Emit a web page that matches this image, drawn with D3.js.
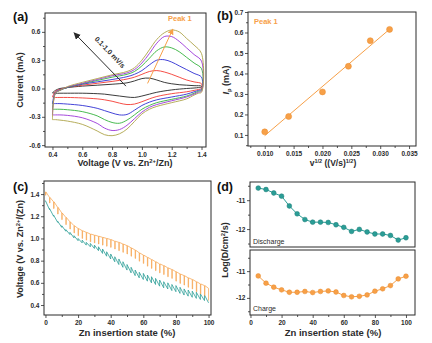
<!DOCTYPE html>
<html>
<head>
<meta charset="utf-8">
<script src="https://cdn.jsdelivr.net/npm/d3@7"></script>
<style>
  body { margin: 0; background: #fff; }
  text { font-family: "Liberation Sans", Arial, sans-serif; }
</style>
</head>
<body>
<svg id="fig" width="432" height="343"></svg>
<script>
// ---- (a) CV curves, 0.1 - 1.0 mV/s
var cvRates = [0.1, 0.2, 0.4, 0.6, 0.8, 1.0];
var cvColors = ["#262626", "#f43a32", "#2f2fd2", "#33b23c", "#9b35d8", "#aea448"];
var vUp = [0.40, 0.42, 0.45, 0.50, 0.60, 0.70, 0.80, 0.90, 0.95, 1.00, 1.05, 1.10, 1.15, 1.20, 1.25, 1.30, 1.35, 1.40];
var vDown = [1.40, 1.38, 1.35, 1.30, 1.20, 1.10, 1.05, 1.00, 0.95, 0.90, 0.85, 0.80, 0.75, 0.70, 0.60, 0.50, 0.45, 0.42, 0.40];
var iUp = [
  [-0.045, -0.02, 0.00, 0.01, 0.025, 0.035, 0.045, 0.06, 0.08, 0.105, 0.11, 0.09, 0.065, 0.05, 0.04, 0.035, 0.03, 0.025],
  [-0.09, -0.03, -0.01, 0.01, 0.035, 0.055, 0.075, 0.1, 0.12, 0.15, 0.18, 0.19, 0.175, 0.15, 0.12, 0.09, 0.07, 0.05],
  [-0.16, -0.04, -0.015, 0.01, 0.045, 0.07, 0.095, 0.125, 0.15, 0.19, 0.25, 0.3, 0.305, 0.28, 0.24, 0.2, 0.16, 0.12],
  [-0.22, -0.05, -0.02, 0.01, 0.05, 0.085, 0.12, 0.15, 0.18, 0.24, 0.32, 0.40, 0.44, 0.43, 0.39, 0.33, 0.27, 0.21],
  [-0.28, -0.05, -0.02, 0.015, 0.055, 0.095, 0.135, 0.165, 0.2, 0.27, 0.37, 0.48, 0.55, 0.55, 0.5, 0.43, 0.36, 0.29],
  [-0.33, -0.05, -0.02, 0.02, 0.065, 0.105, 0.145, 0.18, 0.22, 0.3, 0.41, 0.52, 0.59, 0.62, 0.6, 0.53, 0.46, 0.37]
];
var iDown = [
  [0.015, 0.01, 0.005, 0.0, -0.015, -0.04, -0.06, -0.08, -0.095, -0.09, -0.08, -0.07, -0.06, -0.055, -0.05, -0.05, -0.05, -0.05, -0.045],
  [0.0, -0.01, -0.02, -0.035, -0.055, -0.085, -0.11, -0.14, -0.165, -0.17, -0.155, -0.135, -0.12, -0.11, -0.1, -0.095, -0.095, -0.095, -0.09],
  [-0.01, -0.02, -0.035, -0.06, -0.09, -0.12, -0.145, -0.18, -0.23, -0.275, -0.28, -0.26, -0.235, -0.21, -0.18, -0.165, -0.16, -0.16, -0.16],
  [-0.02, -0.03, -0.05, -0.08, -0.115, -0.15, -0.18, -0.22, -0.28, -0.335, -0.368, -0.36, -0.33, -0.29, -0.245, -0.225, -0.22, -0.22, -0.22],
  [-0.03, -0.04, -0.06, -0.09, -0.13, -0.17, -0.2, -0.25, -0.32, -0.39, -0.435, -0.445, -0.42, -0.37, -0.31, -0.285, -0.28, -0.28, -0.28],
  [-0.04, -0.05, -0.07, -0.11, -0.15, -0.19, -0.22, -0.27, -0.35, -0.43, -0.48, -0.5, -0.49, -0.45, -0.38, -0.345, -0.335, -0.33, -0.33]
];

// ---- (b) peak current vs sqrt(scan rate)
var sqrtRate = [0.0100, 0.01414, 0.0200, 0.02449, 0.02828, 0.03162];
var peakCurrent = [0.115, 0.19, 0.31, 0.435, 0.56, 0.615];

// ---- (c) GITT profiles, one entry per pulse
var gittX = [0, 2.5, 5, 7.5, 10, 12.5, 15, 17.5, 20, 22.5, 25, 27.5, 30, 32.5, 35, 37.5, 40, 42.5, 45, 47.5,
             50, 52.5, 55, 57.5, 60, 62.5, 65, 67.5, 70, 72.5, 75, 77.5, 80, 82.5, 85, 87.5, 90, 92.5, 95, 97.5, 100];
var orangeTop = [1.42, 1.37, 1.33, 1.28, 1.23, 1.19, 1.15, 1.115, 1.09, 1.07, 1.055, 1.04, 1.03, 1.02, 1.01, 1.0, 0.99, 0.975, 0.965, 0.95,
                 0.935, 0.915, 0.895, 0.87, 0.85, 0.83, 0.81, 0.79, 0.77, 0.755, 0.735, 0.72, 0.70, 0.68, 0.665, 0.645, 0.63, 0.61, 0.59, 0.575, 0.55];
var orangeDrop = [0.03, 0.05, 0.06, 0.06, 0.06, 0.065, 0.065, 0.065, 0.065, 0.07, 0.07, 0.07, 0.07, 0.07, 0.07, 0.07, 0.07, 0.07, 0.075, 0.075,
                  0.075, 0.075, 0.075, 0.075, 0.075, 0.08, 0.08, 0.08, 0.08, 0.08, 0.08, 0.08, 0.085, 0.085, 0.085, 0.085, 0.085, 0.09, 0.09, 0.09, 0.11];
var tealBase = [1.335, 1.26, 1.2, 1.145, 1.1, 1.065, 1.035, 1.005, 0.98, 0.96, 0.94, 0.925, 0.91, 0.89, 0.865, 0.84, 0.815, 0.79, 0.765, 0.74,
                0.715, 0.69, 0.665, 0.645, 0.63, 0.615, 0.6, 0.585, 0.57, 0.555, 0.545, 0.53, 0.52, 0.505, 0.49, 0.48, 0.47, 0.46, 0.45, 0.44, 0.42];
var tealRise = [0.005, 0.01, 0.01, 0.01, 0.015, 0.015, 0.02, 0.02, 0.02, 0.025, 0.025, 0.03, 0.03, 0.035, 0.04, 0.04, 0.045, 0.045, 0.05, 0.05,
                0.05, 0.05, 0.05, 0.05, 0.055, 0.055, 0.055, 0.055, 0.055, 0.055, 0.055, 0.055, 0.055, 0.055, 0.055, 0.055, 0.055, 0.055, 0.05, 0.05, 0];

// ---- (d) diffusion coefficients
var dState = [5, 10, 15, 20, 25, 30, 35, 40, 45, 50, 55, 60, 65, 70, 75, 80, 85, 90, 95, 100];
var logDDischarge = [-10.58, -10.63, -10.75, -10.86, -11.2, -11.47, -11.67, -11.76, -11.76, -11.77,
                     -11.85, -11.94, -12.08, -12.01, -12.1, -12.17, -12.17, -12.22, -12.38, -12.3];
var logDCharge = [-11.18, -11.45, -11.6, -11.7, -11.79, -11.79, -11.76, -11.8, -11.76, -11.74,
                  -11.78, -11.91, -11.96, -11.94, -11.89, -11.75, -11.66, -11.54, -11.29, -11.19];

var INK = "#2b2b2b";
var ORANGE = "#f7a048";
var TEAL = "#2a9d96";
var svg = d3.select("#fig");

var defs = svg.append("defs");
function arrowMarker(id, color, size) {
  defs.append("marker").attr("id", id)
      .attr("viewBox", "0 0 10 10").attr("refX", 9).attr("refY", 5)
      .attr("markerWidth", size).attr("markerHeight", size)
      .attr("markerUnits", "userSpaceOnUse").attr("orient", "auto")
    .append("path").attr("d", "M0,0L10,5L0,10z").attr("fill", color);
}
arrowMarker("arrBlack", INK, 7);
arrowMarker("arrOrange", ORANGE, 6);

function makePanel(p) {
  p.x = d3.scaleLinear().domain(p.xd).range([p.l, p.r]);
  p.y = d3.scaleLinear().domain(p.yd).range([p.b, p.t]);
  p.g = svg.append("g");
  return p;
}

function addAxes(p, o) {
  var gx = p.g.append("g").attr("transform", "translate(0," + p.b + ")");
  if (o.xMinor) gx.append("g").call(d3.axisBottom(p.x).tickValues(o.xMinor).tickSize(2).tickFormat(""));
  if (o.xMajor) gx.append("g").call(d3.axisBottom(p.x).tickValues(o.xMajor).tickSize(3).tickPadding(2).tickFormat(o.xFmt));
  var gy = p.g.append("g").attr("transform", "translate(" + p.l + ",0)");
  if (o.yMinor) gy.append("g").call(d3.axisLeft(p.y).tickValues(o.yMinor).tickSize(2).tickFormat(""));
  gy.append("g").call(d3.axisLeft(p.y).tickValues(o.yMajor).tickSize(3).tickPadding(1.5).tickFormat(o.yFmt));
  p.g.selectAll(".domain").remove();
  p.g.selectAll(".tick line").attr("stroke", INK).attr("stroke-width", 0.8);
  // the minor-tick axes still create empty <text>; drop them
  p.g.selectAll(".tick text").filter(function() { return this.textContent === ""; }).remove();
  p.g.selectAll(".tick text").attr("font-size", 6.5).attr("font-weight", "bold")
      .attr("fill", INK).attr("font-family", "Liberation Sans, Arial, sans-serif");
}

function addBox(p) {
  p.g.append("rect").attr("x", p.l).attr("y", p.t)
      .attr("width", p.r - p.l).attr("height", p.b - p.t)
      .attr("fill", "none").attr("stroke", INK).attr("stroke-width", 1);
}

// text from pieces: [string, "sup" | "sub" | "it" | null]
function richText(sel, parts, size) {
  var carry = 0;
  parts.forEach(function(pt) {
    var t = sel.append("tspan").text(pt[0]);
    var shift = 0;
    if (pt[1] === "sup") shift = -size * 0.38;
    if (pt[1] === "sub") shift = size * 0.25;
    if (pt[1] === "sup" || pt[1] === "sub") t.attr("font-size", size * 0.65);
    if (pt[1] === "it") t.attr("font-style", "italic");
    var dy = carry + shift;
    if (dy) t.attr("dy", dy);
    carry = -shift;
  });
  return sel;
}

function title(x, y, rot, parts, size) {
  var t = svg.append("text").attr("font-size", size).attr("font-weight", "bold").attr("fill", INK)
      .attr("text-anchor", "middle")
      .attr("transform", "translate(" + x + "," + y + ")" + (rot ? " rotate(-90)" : ""));
  richText(t, parts, size);
}

function panelLabel(x, y, s) {
  svg.append("text").attr("x", x).attr("y", y).text(s)
      .attr("font-family", "Liberation Serif, Times New Roman, serif")
      .attr("font-weight", "bold").attr("font-size", 12.5).attr("fill", "#111");
}

var f1 = function(d) { return d.toFixed(1); };
var f3 = function(d) { return d.toFixed(3); };
var f0 = function(d) { return d.toFixed(0); };

// ================= (a)
var A = makePanel({l: 45, r: 206, t: 13, b: 147, xd: [0.35, 1.43], yd: [-0.62, 0.8]});
addAxes(A, {
  xMajor: [0.4, 0.6, 0.8, 1.0, 1.2, 1.4], xMinor: [0.5, 0.7, 0.9, 1.1, 1.3], xFmt: f1,
  yMajor: [-0.6, -0.3, 0, 0.3, 0.6], yMinor: [-0.45, -0.15, 0.15, 0.45, 0.75], yFmt: f1
});
var cvLine = d3.line().x(function(d) { return A.x(d[0]); }).y(function(d) { return A.y(d[1]); })
    .curve(d3.curveCatmullRom.alpha(0.5));
cvRates.forEach(function(r, k) {
  var pts = vUp.map(function(v, j) { return [v, iUp[k][j]]; })
      .concat(vDown.map(function(v, j) { return [v, iDown[k][j]]; }));
  A.g.append("path").datum(pts).attr("d", cvLine)
      .attr("fill", "none").attr("stroke", cvColors[k]).attr("stroke-width", 0.9);
});
addBox(A);
// scan-rate arrow
A.g.append("line").attr("x1", A.x(0.893)).attr("y1", A.y(0.025)).attr("x2", A.x(0.545)).attr("y2", A.y(0.59))
    .attr("stroke", INK).attr("stroke-width", 1).attr("marker-end", "url(#arrBlack)");
A.g.append("text").attr("transform", "translate(" + A.x(0.68) + "," + A.y(0.52) + ") rotate(46)")
    .attr("font-size", 7).attr("font-weight", "bold").attr("fill", INK).text("0.1-1.0 mV/s");
A.g.append("line").attr("x1", A.x(1.038)).attr("y1", A.y(0.054)).attr("x2", A.x(1.208)).attr("y2", A.y(0.63))
    .attr("stroke", ORANGE).attr("stroke-width", 1).attr("marker-end", "url(#arrOrange)");
A.g.append("text").attr("x", A.x(1.175)).attr("y", A.y(0.715))
    .attr("font-size", 7.5).attr("font-weight", "bold").attr("fill", ORANGE).text("Peak 1");
title(125, 166, false, [["Voltage (V vs. Zn", null], ["2+", "sup"], ["/Zn)", null]], 9);
title(23, 80, true, [["Current (mA)", null]], 9);
panelLabel(13, 21, "(a)");

// ================= (b)
var B = makePanel({l: 248, r: 416, t: 12, b: 146, xd: [0.0071, 0.0362], yd: [0.046, 0.7]});
addAxes(B, {
  xMajor: [0.010, 0.015, 0.020, 0.025, 0.030, 0.035],
  xMinor: [0.0075, 0.0125, 0.0175, 0.0225, 0.0275, 0.0325], xFmt: f3,
  yMajor: [0.1, 0.2, 0.3, 0.4, 0.5, 0.6, 0.7], yMinor: [0.05, 0.15, 0.25, 0.35, 0.45, 0.55, 0.65], yFmt: f1
});
// least-squares line through the peak currents
var mx = d3.mean(sqrtRate), my = d3.mean(peakCurrent);
var sxy = d3.sum(sqrtRate, function(v, i) { return (v - mx) * (peakCurrent[i] - my); });
var sxx = d3.sum(sqrtRate, function(v) { return (v - mx) * (v - mx); });
var slope = sxy / sxx, icpt = my - slope * mx;
var fitX = d3.extent(sqrtRate);
B.g.append("line").attr("x1", B.x(fitX[0])).attr("y1", B.y(icpt + slope * fitX[0]))
    .attr("x2", B.x(fitX[1])).attr("y2", B.y(icpt + slope * fitX[1]))
    .attr("stroke", ORANGE).attr("stroke-width", 1);
B.g.selectAll("circle.pk").data(sqrtRate).enter().append("circle")
    .attr("cx", function(d) { return B.x(d); })
    .attr("cy", function(d, i) { return B.y(peakCurrent[i]); })
    .attr("r", 3).attr("fill", ORANGE).attr("stroke", "#e98a2c").attr("stroke-width", 0.5);
addBox(B);
B.g.append("text").attr("x", B.l + 6).attr("y", B.t + 11.5)
    .attr("font-size", 7.5).attr("font-weight", "bold").attr("fill", ORANGE).text("Peak 1");
title(333, 166, false, [["v", null], ["1/2", "sup"], [" ((V/s)", null], ["1/2", "sup"], [")", null]], 8.5);
title(229, 80, true, [["I", "it"], ["p", "sub"], [" (mA)", null]], 9);
panelLabel(217, 20, "(b)");

// ================= (c)
var C = makePanel({l: 44, r: 211, t: 181, b: 315, xd: [-0.9, 101.5], yd: [0.31, 1.518]});
addAxes(C, {
  xMajor: [0, 20, 40, 60, 80, 100], xMinor: [10, 30, 50, 70, 90], xFmt: f0,
  yMajor: [0.4, 0.6, 0.8, 1.0, 1.2, 1.4], yMinor: [0.5, 0.7, 0.9, 1.1, 1.3, 1.5], yFmt: f1
});
var oPath = d3.path(), tPath = d3.path();
gittX.forEach(function(xv, i) {
  var px = C.x(xv);
  var top = C.y(orangeTop[i]), tip = C.y(orangeTop[i] - orangeDrop[i]);
  if (i === 0) oPath.moveTo(px, top); else oPath.lineTo(px, top);
  oPath.lineTo(px, tip);
  if (i < gittX.length - 1) { oPath.lineTo(px + 0.4, tip); oPath.lineTo(px + 0.4, top); }
  var base = C.y(tealBase[i]), peak = C.y(tealBase[i] + tealRise[i]);
  if (i === 0) tPath.moveTo(px, base); else tPath.lineTo(px, base);
  tPath.lineTo(px, peak);
});
C.g.append("path").attr("d", tPath.toString()).attr("fill", "none").attr("stroke", TEAL).attr("stroke-width", 0.8);
C.g.append("path").attr("d", oPath.toString()).attr("fill", "none").attr("stroke", ORANGE).attr("stroke-width", 0.7);
addBox(C);
title(127, 336, false, [["Zn insertion state (%)", null]], 9.5);
title(23, 249, true, [["Voltage (V vs. Zn", null], ["2+", "sup"], ["/(Zn)", null]], 9);
panelLabel(13, 191, "(c)");

// ================= (d)
var D1 = makePanel({l: 250, r: 415, t: 182, b: 247, xd: [-0.3, 105.8], yd: [-12.62, -10.37]});
var D2 = makePanel({l: 250, r: 415, t: 250, b: 315, xd: [-0.3, 105.8], yd: [-12.64, -10.21]});
var fInt = function(d) { return String(d); };
addAxes(D1, {yMajor: [-11, -12], yMinor: [-10.5, -11.5, -12.5], yFmt: fInt});
addAxes(D2, {
  xMajor: [0, 20, 40, 60, 80, 100], xMinor: [10, 30, 50, 70, 90], xFmt: f0,
  yMajor: [-11, -12], yMinor: [-10.5, -11.5, -12.5], yFmt: fInt
});
function diffSeries(p, vals, color, edge) {
  var ln = d3.line().x(function(d, i) { return p.x(dState[i]); }).y(function(d) { return p.y(d); });
  p.g.append("path").datum(vals).attr("d", ln).attr("fill", "none").attr("stroke", color).attr("stroke-width", 1);
  p.g.selectAll(null).data(vals).enter().append("circle")
      .attr("cx", function(d, i) { return p.x(dState[i]); })
      .attr("cy", function(d) { return p.y(d); })
      .attr("r", 2.4).attr("fill", color).attr("stroke", edge).attr("stroke-width", 0.5);
}
diffSeries(D1, logDDischarge, TEAL, "#1c7d77");
diffSeries(D2, logDCharge, ORANGE, "#e98a2c");
addBox(D1);
addBox(D2);
D1.g.append("text").attr("x", D1.l + 3).attr("y", D1.b - 3.5).attr("font-size", 7).attr("fill", INK).text("Discharge");
D2.g.append("text").attr("x", D2.l + 3).attr("y", D2.b - 4).attr("font-size", 7).attr("fill", INK).text("Charge");
title(333, 336, false, [["Zn insertion state (%)", null]], 9.5);
title(228, 250, true, [["Log(D/cm", null], ["2", "sup"], ["/s)", null]], 9);
panelLabel(217, 191, "(d)");
</script>
</body>
</html>
